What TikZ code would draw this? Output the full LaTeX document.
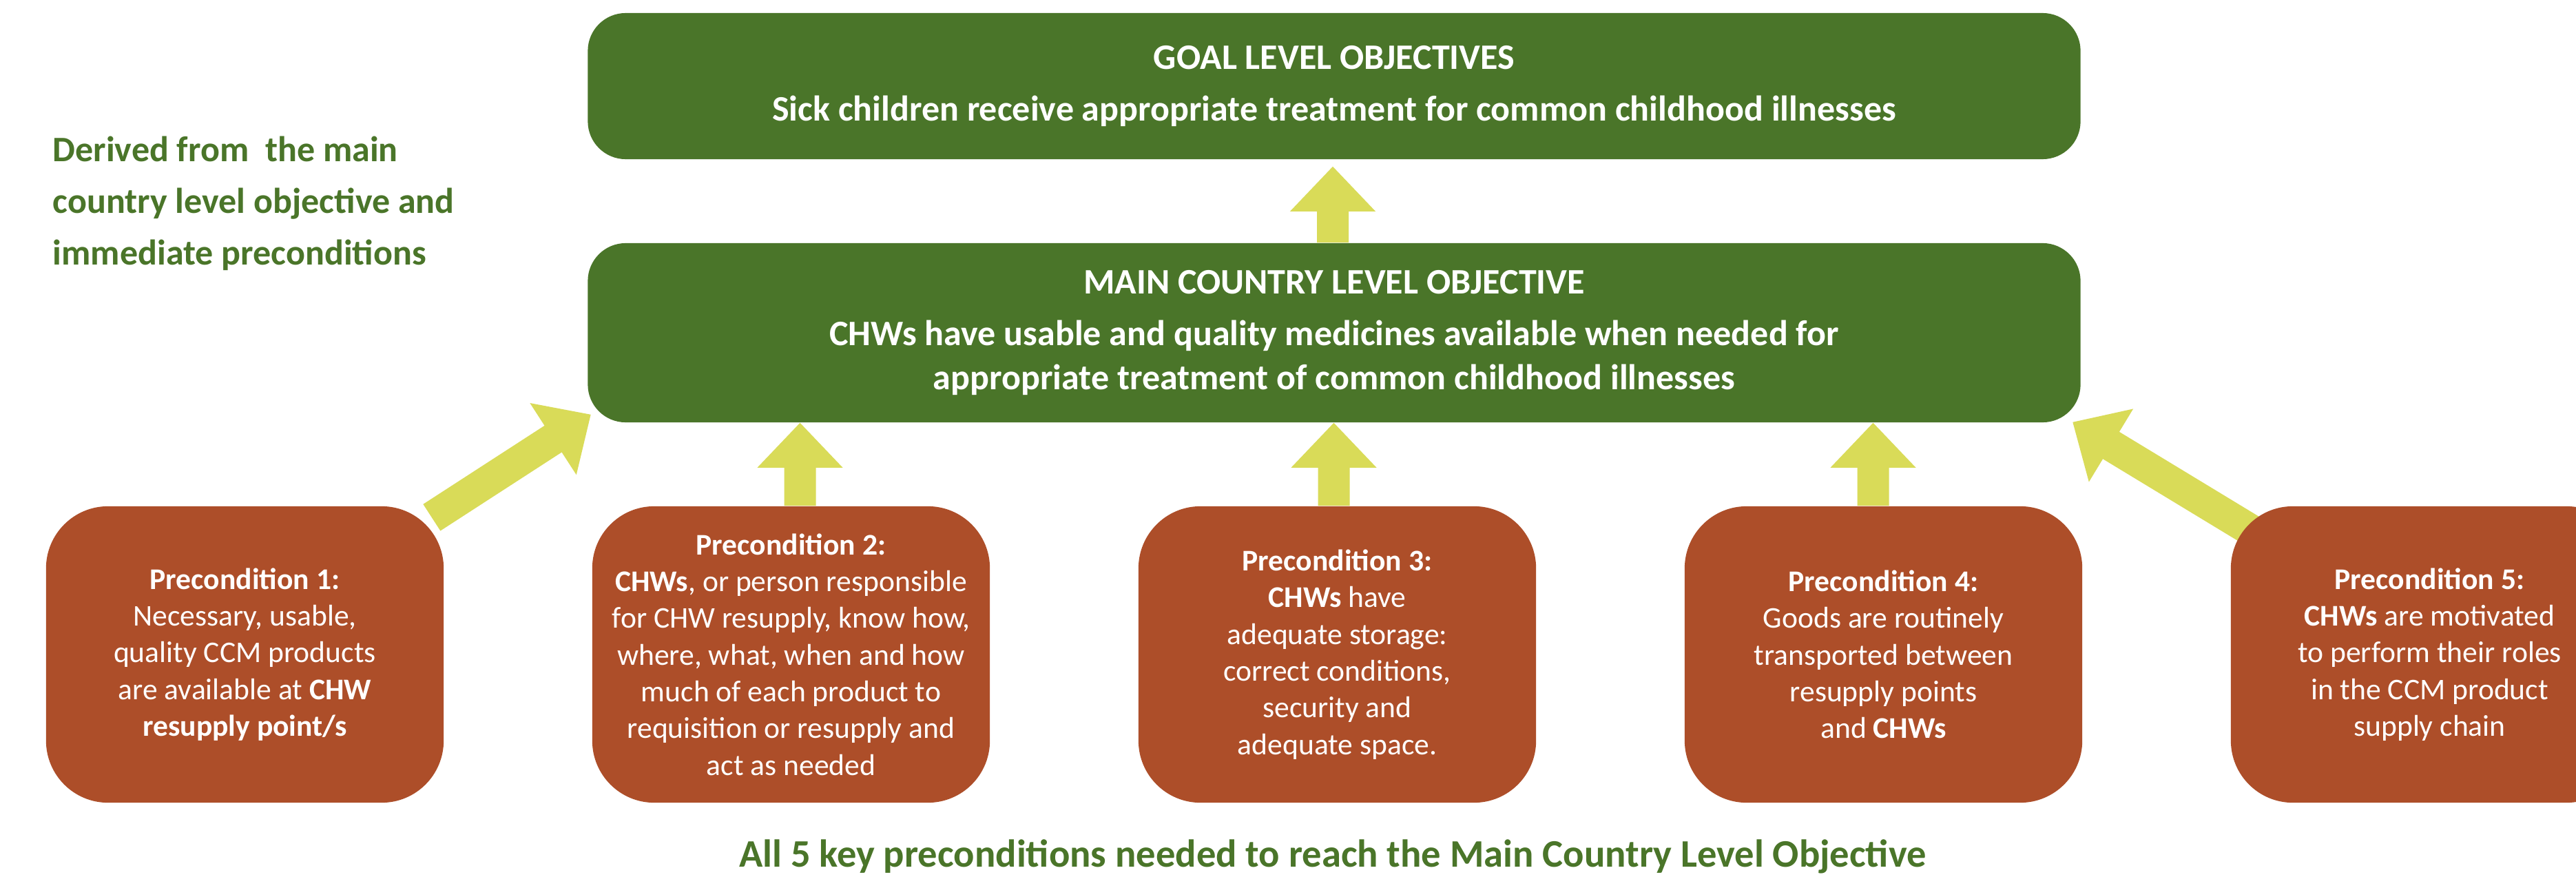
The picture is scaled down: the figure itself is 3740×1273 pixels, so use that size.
\documentclass[tikz,border=0pt]{standalone}
\usepackage{fontspec}
\setmainfont{Carlito}
\usetikzlibrary{calc}
\pgfdeclarelayer{background}
\pgfsetlayers{background,main}

\definecolor{leafgreen}{RGB}{74,117,41}
\definecolor{rust}{RGB}{173,78,41}
\definecolor{arrowlime}{RGB}{217,219,88}

% broad block arrow from #1 (tail) to #2 (tip)
\newcommand\blockarrow[2]{%
  \coordinate (ba-s) at (#1);
  \coordinate (ba-t) at (#2);
  \coordinate (ba-n) at ($(ba-t)!0.65cm!(ba-s)$);
  \fill[arrowlime]
    ($(ba-s)!0.23cm!90:(ba-t)$) -- ($(ba-n)!0.23cm!90:(ba-t)$) --
    ($(ba-n)!0.62cm!90:(ba-t)$) -- (ba-t) --
    ($(ba-n)!0.62cm!-90:(ba-t)$) -- ($(ba-n)!0.23cm!-90:(ba-t)$) --
    ($(ba-s)!0.23cm!-90:(ba-t)$) -- cycle;
}

\tikzset{
  objbox/.style={fill=leafgreen, rounded corners=0.55cm, minimum width=21.66cm,
    inner sep=0pt, text=white, align=center,
    font=\bfseries\fontsize{14.8}{18.2}\selectfont},
  precbox/.style={fill=rust, rounded corners=0.9cm, minimum width=5.77cm,
    minimum height=4.3cm, inner sep=0pt, text=white, align=center,
    font=\fontsize{12.4}{15.15}\selectfont},
  greennote/.style={text=leafgreen, inner sep=0pt,
    font=\bfseries\fontsize{14.8}{21.3}\selectfont},
}

\begin{document}
\begin{tikzpicture}[x=0.01cm, y=-0.01cm]
\useasboundingbox (0,0) rectangle (3740,1273);
\clip (0,0) rectangle (3740,1273);

% objectives
\node[objbox, minimum height=2.12cm] (goal) at (1937,125)
  {GOAL LEVEL OBJECTIVES\\[3pt]Sick children receive appropriate treatment for common childhood illnesses};
\node[objbox, minimum height=2.6cm] (main) at (1937,483)
  {MAIN COUNTRY LEVEL OBJECTIVE\\[3pt]CHWs have usable and quality medicines available when needed for\\appropriate treatment of common childhood illnesses};

% preconditions
\node[precbox] (p1) at (355.5,950)
  {\textbf{Precondition 1:}\\Necessary, usable,\\quality CCM products\\are available at \textbf{CHW}\\\textbf{resupply point/s}};
\node[precbox] (p2) at (1148.5,950)
  {\textbf{Precondition 2:}\\\textbf{CHWs}, or person responsible\\for CHW resupply, know how,\\where, what, when and how\\much of each product to\\requisition or resupply and\\act as needed};
\node[precbox] (p3) at (1941.5,950)
  {\textbf{Precondition 3:}\\\textbf{CHWs} have\\adequate storage:\\correct conditions,\\security and\\adequate space.};
\node[precbox] (p4) at (2734.5,950)
  {\textbf{Precondition 4:}\\Goods are routinely\\transported between\\resupply points\\and \textbf{CHWs}};
\node[precbox] (p5) at (3527.5,950)
  {\textbf{Precondition 5:}\\\textbf{CHWs} are motivated\\to perform their roles\\in the CCM product\\supply chain};

% side and bottom notes
\node[greennote, align=left, anchor=base west] (derived) at (76,384)
  {Derived from\ \ the main\\country level objective and\\immediate preconditions};
\node[greennote, anchor=base, font=\bfseries\fontsize{16.1}{19}\selectfont] (allfive) at (1935,1258)
  {All 5 key preconditions needed to reach the Main Country Level Objective};

% arrows, behind the boxes
\begin{pgfonlayer}{background}
  \fill[white] (0,0) rectangle (3740,1273);
  \clip (0,0) rectangle (3740,1273);
  \coordinate (a0s) at ([xshift=-0.02cm]main.north);
  \coordinate (a0t) at ([yshift=-0.1cm]a0s |- goal.south);
  \blockarrow{a0s}{a0t}
  \coordinate (a2s) at ([xshift=0.13cm]p2.north);
  \coordinate (a2t) at (a2s |- main.south);
  \blockarrow{a2s}{a2t}
  \coordinate (a3s) at ([xshift=-0.05cm]p3.north);
  \coordinate (a3t) at (a3s |- main.south);
  \blockarrow{a3s}{a3t}
  \coordinate (a4s) at ([xshift=-0.15cm]p4.north);
  \coordinate (a4t) at (a4s |- main.south);
  \blockarrow{a4s}{a4t}
  \coordinate (a1s) at ([shift={(-18,17)}]p1.north east);
  \coordinate (a1t) at ([shift={(5,-12)}]main.south west);
  \blockarrow{a1s}{a1t}
  \coordinate (a5s) at ([shift={(44,44)}]p5.north west);
  \coordinate (a5t) at ([shift={(-12,-1)}]main.south east);
  \blockarrow{a5s}{a5t}
\end{pgfonlayer}
\end{tikzpicture}
\end{document}
